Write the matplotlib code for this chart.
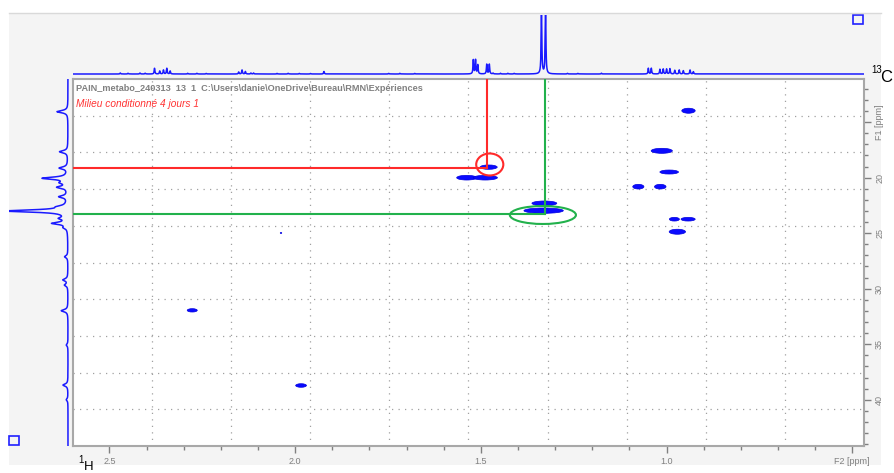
import numpy as np
import matplotlib
matplotlib.use('Agg')
import matplotlib.pyplot as plt
from matplotlib.patches import Ellipse, Rectangle
from matplotlib.lines import Line2D

plt.rcParams['font.family'] = ['Liberation Sans', 'DejaVu Sans']

# 1H projection (top trace): shift [ppm] and height
hShift = [2.471, 2.450, 2.418, 2.404, 2.379, 2.365, 2.355, 2.346, 2.337, 2.290, 2.265, 2.240,
          2.153, 2.144, 2.135, 2.120, 2.113, 2.050, 2.020, 1.990, 1.960, 1.924, 1.750, 1.720, 1.680,
          1.523, 1.517, 1.511, 1.487, 1.480, 1.470, 1.450, 1.430, 1.413,
          1.340, 1.329, 1.270, 1.242, 1.179,
          1.053, 1.045, 1.022, 1.013, 1.004, 0.995, 0.982, 0.970, 0.959, 0.941, 0.932]
hHeight = [1.0, 0.8, 1.0, 0.8, 5.7, 3.0, 4.0, 5.7, 3.0, 0.7, 0.7, 0.6,
           2.0, 4.0, 2.5, 1.0, 1.0, 0.6, 0.7, 0.6, 0.6, 2.5, 0.6, 0.7, 0.6,
           14.0, 14.0, 9.0, 9.7, 9.7, 0.8, 0.7, 0.7, 0.6,
           65.0, 65.0, 0.6, 0.6, 0.8,
           5.7, 5.7, 4.7, 5.0, 5.0, 5.3, 3.7, 4.0, 3.3, 4.0, 2.3]

# 13C projection (left trace)
cShift = [14.05, 17.66, 19.13, 20.05, 20.45, 20.86, 21.71, 22.61, 23.00, 23.66, 24.11, 24.50,
          27.12, 29.20, 29.67, 31.98, 35.07, 38.68, 40.00]
cHeight = [11.0, 8.3, 8.3, 25.0, 6.0, 10.0, 8.3, 6.7, 62.0, 6.7, 15.0, 3.3,
           3.3, 5.0, 3.3, 6.7, 1.7, 5.0, 1.7]

# 2D cross peaks: F2 (1H), F1 (13C), extent in each dimension
peakH = [1.479, 1.538, 1.488, 1.329, 1.331, 1.013, 0.993, 1.076, 1.017,
         0.979, 0.942, 0.971, 0.941, 2.277, 1.984, 2.038]
peakC = [19.05, 20.00, 20.00, 22.31, 22.97, 17.58, 19.49, 20.81, 20.81,
         23.74, 23.74, 24.87, 13.97, 31.95, 38.72, 24.98]
peakW = [0.046, 0.054, 0.065, 0.067, 0.106, 0.057, 0.050, 0.030, 0.031,
         0.027, 0.038, 0.044, 0.036, 0.027, 0.029, 0.004]
peakHt = [0.39, 0.42, 0.42, 0.42, 0.48, 0.45, 0.36, 0.42, 0.42,
          0.33, 0.33, 0.45, 0.45, 0.30, 0.32, 0.10]

# marked correlations (alanine / lactate)
redH, redC = 1.484, 19.10
greenH, greenC = 1.326, 23.30

xTicks = [2.5, 2.0, 1.5, 1.0, 0.5]
xTickLabels = ['2.5', '2.0', '1.5', '1.0', 'F2 [ppm]']
yTicks = [15, 20, 25, 30, 35, 40]
yTickLabels = ['F1 [ppm]', '20', '25', '30', '35', '40']

W, H = 895, 473
xLim = (2.598, 0.4685)
yLim = (44.17, 11.11)
GREY = '#808080'


def px(x0, y0, x1, y1):
    # pixel box (top-left origin) -> figure rect
    return [x0 / W, 1 - y1 / H, (x1 - x0) / W, (y1 - y0) / H]


def lorentz(axis, centres, heights, hw):
    out = np.zeros_like(axis)
    for c, h in zip(centres, heights):
        out += h * hw**2 / ((axis - c)**2 + hw**2)
    return out


fig = plt.figure(figsize=(W / 100, H / 100), dpi=100)
fig.patch.set_facecolor('white')

# grey panel behind everything
fig.patches.append(Rectangle((9 / W, 1 - 465 / H), 872 / W, 452 / H, transform=fig.transFigure,
                             facecolor='#f4f4f4', edgecolor='none', zorder=-10))
fig.lines.append(Line2D([9 / W, 881 / W], [1 - 13 / H, 1 - 13 / H], transform=fig.transFigure,
                        color='#d9d9d9', lw=1))

# main 2D axes
ax = fig.add_axes(px(73, 79, 864, 446))
ax.set_facecolor('white')
ax.set_xlim(*xLim)
ax.set_ylim(*yLim)

for i in range(1, 10):
    gx = xLim[0] + i * (xLim[1] - xLim[0]) / 10
    gy = yLim[1] + i * (yLim[0] - yLim[1]) / 10
    ax.axvline(gx, color='#a0a0a0', lw=0.9, ls=(0, (1, 4.2)), zorder=1)
    ax.axhline(gy, color='#a0a0a0', lw=0.9, ls=(0, (1, 4.2)), zorder=1)

for h, c, w, ht in zip(peakH, peakC, peakW, peakHt):
    ax.add_patch(Ellipse((h, c), w, ht, facecolor='#0a0aff', edgecolor='#0000dd', lw=0.5, zorder=3))

ax.plot([xLim[0], redH], [redC, redC], color='#ff2a2a', lw=1.5, zorder=4)
ax.plot([redH, redH], [yLim[1], redC], color='#ff2a2a', lw=1.5, zorder=4)
ax.plot([xLim[0], greenH], [greenC, greenC], color='#22b14c', lw=1.5, zorder=4)
ax.plot([greenH, greenH], [yLim[1], greenC], color='#22b14c', lw=1.5, zorder=4)
ax.add_patch(Ellipse((1.476, 18.81), 0.073, 1.98, facecolor='none', edgecolor='#ff2a2a', lw=1.5, zorder=4))
ax.add_patch(Ellipse((1.333, 23.36), 0.178, 1.62, facecolor='none', edgecolor='#22b14c', lw=1.5, zorder=4))

for s in ax.spines.values():
    s.set_color('#a8a8a8')
    s.set_linewidth(1.5)

ax.set_xticks(xTicks)
ax.set_xticklabels(xTickLabels)
ax.set_xticks(np.arange(0.5, 2.6, 0.1), minor=True)
ax.yaxis.tick_right()
ax.set_yticks(yTicks)
ax.set_yticklabels(yTickLabels, rotation=90, va='center')
ax.set_yticks(np.arange(12, 45, 1), minor=True)
ax.tick_params(which='major', length=5, width=1, color=GREY, labelsize=6.5, labelcolor=GREY, pad=3)
ax.tick_params(which='minor', length=3, width=1, color=GREY)

ax.text(0.004, 0.975, 'PAIN_metabo_240313  13  1  C:\\Users\\danie\\OneDrive\\Bureau\\RMN\\Expériences',
        transform=ax.transAxes, fontsize=6.6, fontweight='bold', color=GREY, va='center')
ax.text(0.004, 0.932, 'Milieu conditionné 4 jours 1', transform=ax.transAxes,
        fontsize=7.3, style='italic', color='#ff3333', va='center')

# 1H projection on top
axTop = fig.add_axes(px(73, 15, 864, 76))
ppmH = np.linspace(0.45, 2.62, 60000)
axTop.plot(ppmH, lorentz(ppmH, hShift, hHeight, 0.0011), color='#1a1aff', lw=1.1)
axTop.set_xlim(xLim[0], 0.474)
axTop.set_ylim(-2, 59)
axTop.axis('off')

# 13C projection on the left
axLeft = fig.add_axes(px(9, 79, 70, 446))
ppmC = np.linspace(10, 45, 20000)
axLeft.plot(lorentz(ppmC, cShift, cHeight, 0.12), ppmC, color='#1a1aff', lw=1.1)
axLeft.set_xlim(59, -2)
axLeft.set_ylim(*yLim)
axLeft.axis('off')

# small boxes in the corners
fig.patches.append(Rectangle((853 / W, 1 - 24 / H), 10 / W, 9 / H, transform=fig.transFigure,
                             facecolor='none', edgecolor='#2020ff', lw=1.2))
fig.patches.append(Rectangle((9 / W, 1 - 445 / H), 10 / W, 9 / H, transform=fig.transFigure,
                             facecolor='none', edgecolor='#2020ff', lw=1.2))

# nucleus labels
fig.text(871 / W, 1 - 73 / H, '13', fontsize=7, color='black', va='baseline')
fig.text(880 / W, 1 - 82 / H, 'C', fontsize=12, color='black', va='baseline')
fig.text(78 / W, 1 - 463 / H, '1', fontsize=7, color='black', va='baseline')
fig.text(84 / W, 1 - 470 / H, 'H', fontsize=9.5, color='black', va='baseline')

fig.savefig('out.png', dpi=100)
